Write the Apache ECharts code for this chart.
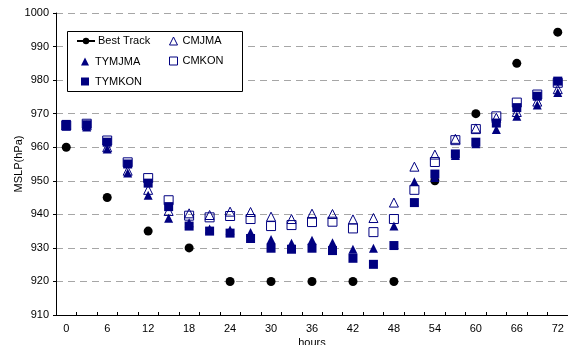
<!DOCTYPE html>
<html>
<head>
<meta charset="utf-8">
<script src="https://cdn.jsdelivr.net/npm/echarts@6/dist/echarts.min.js"></script>
<style>
  html, body { margin: 0; padding: 0; background: #fff; }
  #chart { width: 568px; height: 345px; }
</style>
</head>
<body>
<div id="chart"></div>
<script>
// Forecast hours (every 3 h)
const hours = ['0','3','6','9','12','15','18','21','24','27','30','33','36','39','42','45','48','51','54','57','60','63','66','69','72'];

// Best track central pressure (6-hourly)
const bestTrack = [960,null,945,null,935,null,930,null,920,null,920,null,920,null,920,null,920,null,950,null,970,null,985,null,994.3];

// Model forecasts of MSLP (hPa)
const tymjma = [966.3,966,959.5,952.3,945.7,938.8,937.5,935.6,935.3,934.6,932.5,931.4,932.3,931.5,929.6,929.9,936.5,949.7,951,957.5,961,965.3,969.2,972.6,976.3];
const cmjma  = [966.5,966.5,960,953,947.3,941,940.3,939.8,940.8,940.7,939.3,938.6,940.2,940.1,938.5,938.9,943.5,954.2,957.8,962.5,965.6,968.8,970.5,973.6,977.3];
const tymkon = [966.8,966.7,961.5,955,949.3,942.3,936.5,935,934.4,932.8,929.9,929.6,929.9,929.2,926.9,925.1,930.7,943.5,952,958,961.5,967.2,971.8,975.2,979.7];
const cmkon  = [966.5,967,962,955.5,950.8,944.2,939.6,939.1,939.5,938.6,936.5,936.8,937.7,937.8,935.8,934.7,938.6,947.3,955.6,962.1,965.4,969.2,973.3,975.7,979.2];

const NAVY = '#000080';
const FONT = '"Liberation Sans", Arial, sans-serif';

const legendText = { fontFamily: FONT, fontSize: 11, color: '#000' };
function legendBlock(names, left, top, itemWidth, textPad) {
  return {
    data: names,
    orient: 'vertical',
    left: left, top: top,
    padding: 0,
    itemGap: 9,
    itemWidth: itemWidth, itemHeight: 8,
    itemStyle: { borderWidth: 1 },
    textStyle: Object.assign({ padding: [0, 0, 0, textPad] }, legendText),
    z: 60
  };
}

const chart = echarts.init(document.getElementById('chart'), null, { renderer: 'canvas' });

chart.setOption({
  animation: false,
  backgroundColor: '#fff',
  textStyle: { fontFamily: FONT, color: '#000' },
  grid: { left: 56, top: 13, right: 0, bottom: 30, outerBoundsMode: 'none', containLabel: false },
  graphic: [{
    type: 'rect',
    shape: { x: 67.5, y: 31.5, width: 175, height: 60 },
    style: { fill: '#fff', stroke: '#000', lineWidth: 1 },
    z: 50
  }],
  legend: [
    legendBlock(['Best Track'], 76, 35.5, 18, -2),
    legendBlock(['TYMJMA', 'TYMKON'], 81, 56, 8, 1),
    legendBlock(['CMJMA', 'CMKON'], 169, 35.5, 8, 0)
  ],
  xAxis: {
    type: 'category',
    data: hours,
    boundaryGap: true,
    name: 'hours',
    nameLocation: 'middle',
    nameGap: 22,
    nameMoveOverlap: false,
    nameTextStyle: { fontFamily: FONT, fontSize: 11, color: '#000' },
    axisLine: { show: true, lineStyle: { color: '#000', width: 1 } },
    axisTick: { show: true, inside: true, length: 3, interval: 0, alignWithLabel: false, lineStyle: { color: '#000' } },
    axisLabel: { interval: 1, margin: 8, fontFamily: FONT, fontSize: 11, color: '#000' },
    splitLine: { show: false }
  },
  yAxis: {
    type: 'value',
    min: 910, max: 1000, interval: 10,
    name: 'MSLP(hPa)',
    nameLocation: 'middle',
    nameGap: 32,
    nameMoveOverlap: false,
    nameRotate: 90,
    nameTextStyle: { fontFamily: FONT, fontSize: 11, color: '#000' },
    axisLine: { show: true, lineStyle: { color: '#000', width: 1 } },
    axisTick: { show: true, inside: false, length: 3, lineStyle: { color: '#000' } },
    axisLabel: { margin: 7, fontFamily: FONT, fontSize: 11, color: '#000', formatter: v => String(v) },
    splitLine: { show: true, lineStyle: { color: '#a6a6a6', type: [7, 5], width: 1 } }
  },
  series: [
    {
      name: 'Best Track',
      type: 'line',
      data: bestTrack,
      connectNulls: false,
      symbol: 'circle',
      symbolSize: 9,
      showAllSymbol: true,
      lineStyle: { color: '#000', width: 1.5 },
      itemStyle: { color: '#000', opacity: 1 },
      z: 2
    },
    {
      name: 'CMJMA',
      type: 'scatter',
      data: cmjma,
      symbol: 'triangle',
      symbolSize: 9,
      itemStyle: { color: 'rgba(255,255,255,0)', borderColor: NAVY, borderWidth: 1, opacity: 1 },
      z: 3
    },
    {
      name: 'TYMJMA',
      type: 'scatter',
      data: tymjma,
      symbol: 'triangle',
      symbolSize: 9,
      itemStyle: { color: NAVY, opacity: 1 },
      z: 4
    },
    {
      name: 'CMKON',
      type: 'scatter',
      data: cmkon,
      symbol: 'rect',
      symbolSize: 9,
      itemStyle: { color: 'rgba(255,255,255,0)', borderColor: NAVY, borderWidth: 1, opacity: 1 },
      z: 5
    },
    {
      name: 'TYMKON',
      type: 'scatter',
      data: tymkon,
      symbol: 'rect',
      symbolSize: 9,
      itemStyle: { color: NAVY, opacity: 1 },
      z: 6
    }
  ]
});
</script>
</body>
</html>
